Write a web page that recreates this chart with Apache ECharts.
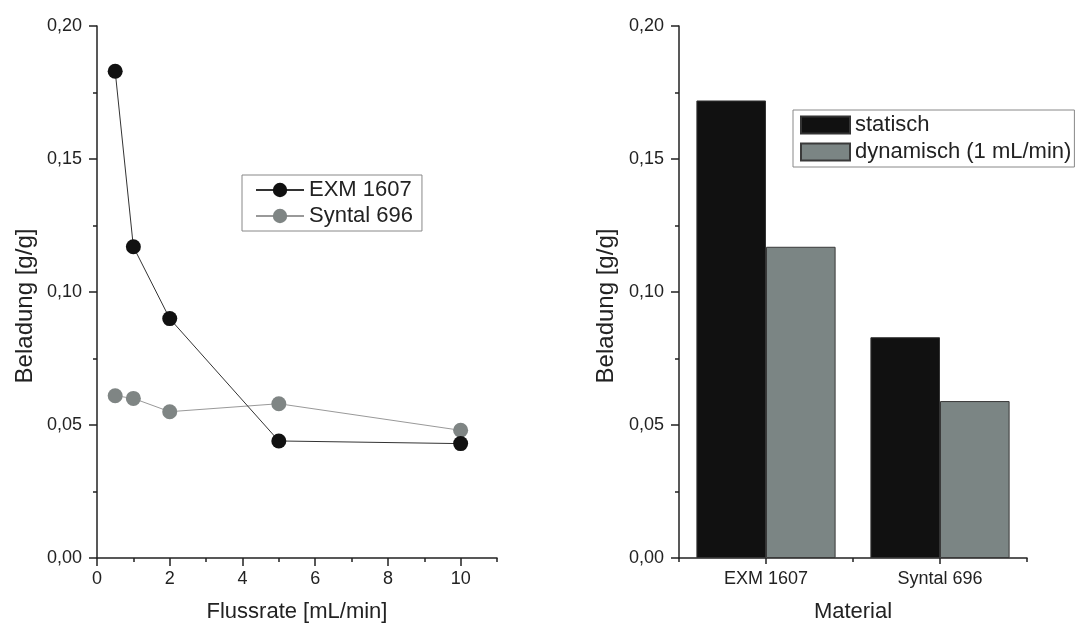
<!DOCTYPE html>
<html>
<head>
<meta charset="utf-8">
<script src="https://cdn.jsdelivr.net/npm/echarts@6/dist/echarts.min.js"></script>
<style>html,body{margin:0;padding:0;background:#fff}#c{width:1079px;height:628px}</style>
</head>
<body>
<div id="c"></div>
<script>
// Left panel: loading vs flow rate
const flowRates = [0.5, 1, 2, 5, 10];
const exm1607 = [0.183, 0.117, 0.090, 0.044, 0.043];
const syntal696 = [0.061, 0.060, 0.055, 0.058, 0.048];
const lineSeriesNames = ['EXM 1607', 'Syntal 696'];
// Right panel: static vs dynamic loading per material
const materials = ['EXM 1607', 'Syntal 696'];
const statisch = [0.172, 0.083];
const dynamisch = [0.117, 0.059];
const barSeriesNames = ['statisch', 'dynamisch (1 mL/min)'];
const xMajorTicks = [0, 2, 4, 6, 8, 10];
const xMinorTicks = [1, 3, 5, 7, 9, 11];

const FONT = "'Liberation Sans', Arial, sans-serif";
const AX = '#222';
const fmt = v => v.toFixed(2).replace('.', ',');

function yAxis(gridIndex, nameGap) {
  return {
    type: 'value', gridIndex, min: 0, max: 0.2, interval: 0.05,
    name: 'Beladung [g/g]', nameLocation: 'middle', nameGap,
    nameTextStyle: { fontFamily: FONT, fontSize: 24, color: '#222', padding: [0, 28, 0, 0] },
    axisLine: { show: true, lineStyle: { color: AX, width: 1.5 } },
    axisTick: { show: true, length: 8, lineStyle: { color: AX, width: 1.5 } },
    minorTick: { show: true, splitNumber: 2, length: 4, lineStyle: { color: AX, width: 1.5 } },
    axisLabel: { formatter: fmt, fontFamily: FONT, fontSize: 18, color: '#222', margin: 15 },
    splitLine: { show: false }, minorSplitLine: { show: false }
  };
}

const chart = echarts.init(document.getElementById('c'), null, { renderer: 'canvas' });
chart.setOption({
  animation: false,
  backgroundColor: '#fff',
  textStyle: { fontFamily: FONT },
  grid: [
    { left: 97, top: 26, width: 400, height: 532 },
    { left: 679, top: 26, width: 348, height: 532 }
  ],
  legend: [
    {
      data: lineSeriesNames, left: 242, top: 175, orient: 'vertical',
      borderColor: '#888', borderWidth: 1, padding: [4, 9, 4, 13],
      itemWidth: 48, itemHeight: 18, itemGap: 4,
      textStyle: { fontFamily: FONT, fontSize: 22, color: '#222' }
    },
    {
      data: barSeriesNames, left: 793, top: 110, orient: 'vertical',
      borderColor: '#888', borderWidth: 1, padding: [4, 3, 4, 7],
      itemWidth: 49, itemHeight: 17, itemGap: 5, icon: 'rect',
      textStyle: { fontFamily: FONT, fontSize: 22, color: '#222' }
    }
  ],
  xAxis: [
    {
      type: 'value', gridIndex: 0, min: 0, max: 11,
      name: 'Flussrate [mL/min]', nameLocation: 'middle', nameGap: 43,
      nameTextStyle: { fontFamily: FONT, fontSize: 22, color: '#222' },
      axisLine: { show: true, lineStyle: { color: AX, width: 1.5 } },
      axisTick: { show: true, length: 8, customValues: xMajorTicks, lineStyle: { color: AX, width: 1.5 } },
      axisLabel: { customValues: xMajorTicks, fontFamily: FONT, fontSize: 18, color: '#222', margin: 12 },
      splitLine: { show: false }
    },
    {
      type: 'value', gridIndex: 0, min: 0, max: 11, position: 'bottom', offset: 0,
      axisLine: { show: false },
      axisTick: { show: true, length: 4, customValues: xMinorTicks, lineStyle: { color: AX, width: 1.5 } },
      axisLabel: { show: false }, splitLine: { show: false }
    },
    {
      type: 'category', gridIndex: 1, data: materials,
      name: 'Material', nameLocation: 'middle', nameGap: 43,
      nameTextStyle: { fontFamily: FONT, fontSize: 22, color: '#222' },
      axisLine: { show: true, lineStyle: { color: AX, width: 1.5 } },
      axisTick: { show: true, alignWithLabel: true, length: 6, lineStyle: { color: AX, width: 1.5 } },
      axisLabel: { fontFamily: FONT, fontSize: 18, color: '#222', margin: 12 },
      splitLine: { show: false }
    },
    {
      type: 'category', gridIndex: 1, data: materials, position: 'bottom', offset: 0,
      axisLine: { show: false },
      axisTick: { show: true, length: 4, lineStyle: { color: AX, width: 1.5 } },
      axisLabel: { show: false }, splitLine: { show: false }
    }
  ],
  yAxis: [yAxis(0, 60), yAxis(1, 61)],
  series: [
    {
      name: lineSeriesNames[0], type: 'line', xAxisIndex: 0, yAxisIndex: 0,
      data: flowRates.map((x, i) => [x, exm1607[i]]),
      symbol: 'circle', symbolSize: 15,
      lineStyle: { color: '#333', width: 1 },
      itemStyle: { color: '#111' }, z: 3
    },
    {
      name: lineSeriesNames[1], type: 'line', xAxisIndex: 0, yAxisIndex: 0,
      data: flowRates.map((x, i) => [x, syntal696[i]]),
      symbol: 'circle', symbolSize: 15,
      lineStyle: { color: '#999', width: 1 },
      itemStyle: { color: '#7f8584' }, z: 2
    },
    {
      name: barSeriesNames[0], type: 'bar', xAxisIndex: 2, yAxisIndex: 1,
      data: statisch, barGap: 0, barCategoryGap: '20%',
      itemStyle: { color: '#111111', borderColor: '#333', borderWidth: 1 }
    },
    {
      name: barSeriesNames[1], type: 'bar', xAxisIndex: 2, yAxisIndex: 1,
      data: dynamisch, barGap: 0, barCategoryGap: '20%',
      itemStyle: { color: '#7b8584', borderColor: '#3a3a3a', borderWidth: 1 }
    }
  ]
});
</script>
</body>
</html>
